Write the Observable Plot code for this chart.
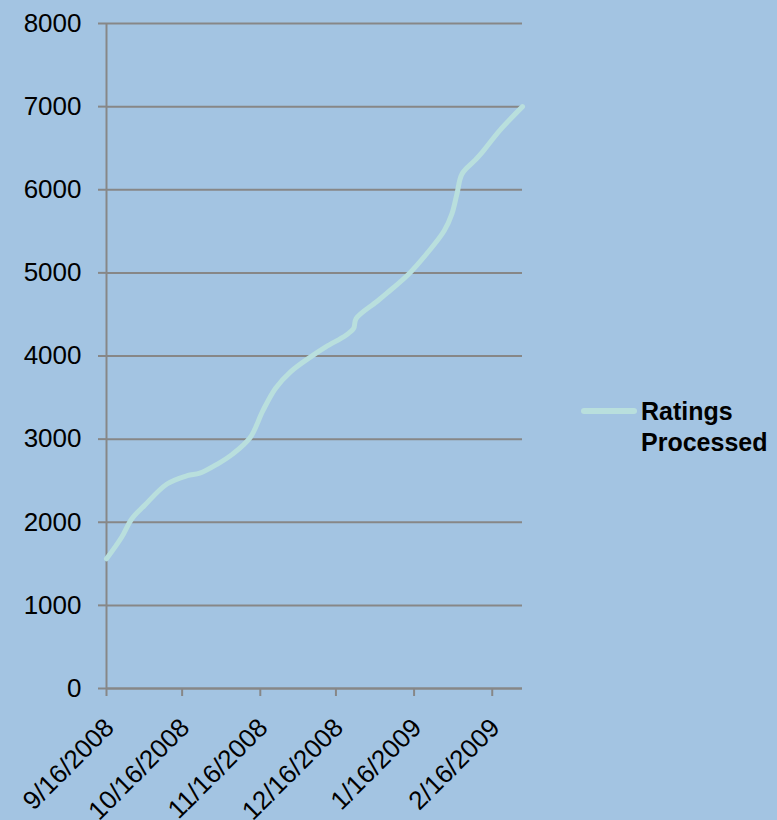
<!DOCTYPE html>
<html>
<head>
<meta charset="utf-8">
<script src="https://cdn.jsdelivr.net/npm/d3@7"></script>
<script src="https://cdn.jsdelivr.net/npm/@observablehq/plot@0.6"></script>
<style>
  html, body { margin: 0; padding: 0; background: #A3C4E2; }
  #wrap { position: relative; width: 777px; height: 820px; background: #A3C4E2; overflow: hidden; }
  #legend { position: absolute; left: 581px; top: 396px; font-family: "Liberation Sans", Arial, sans-serif; font-size: 25px; font-weight: bold; color: #000; }
  #legend .sw { position: absolute; left: 0; top: 12px; width: 56px; height: 6px; border-radius: 3px; background: #B9DFDD; }
  #legend .lb { position: absolute; left: 60px; top: 0; line-height: 31px; white-space: nowrap; }
</style>
</head>
<body>
<div id="wrap"></div>
<script>
const seriesName = "Ratings Processed";
const dates = ["2008-09-16","2008-09-22","2008-09-26","2008-10-01","2008-10-10","2008-10-18","2008-10-23","2008-10-30","2008-11-05","2008-11-12","2008-11-17","2008-11-22","2008-11-28","2008-12-06","2008-12-12","2008-12-20","2008-12-23","2008-12-24","2009-01-01","2009-01-05","2009-01-14","2009-01-21","2009-01-28","2009-01-31","2009-02-02","2009-02-04","2009-02-09","2009-02-12","2009-02-19","2009-02-28"];
const values = [1560,1820,2040,2200,2460,2560,2590,2700,2820,3020,3340,3610,3810,3990,4110,4250,4330,4450,4650,4750,4990,5230,5510,5710,5950,6190,6350,6450,6715,7000];
const yTicks = [0,1000,2000,3000,4000,5000,6000,7000,8000];
const xTickDates = ["2008-09-16","2008-10-16","2008-11-16","2008-12-16","2009-01-16","2009-02-16"];
const xTickLabels = ["9/16/2008","10/16/2008","11/16/2008","12/16/2008","1/16/2009","2/16/2009"];
const xDomain = ["2008-09-16","2009-02-28"];

const data = dates.map((d, i) => ({date: new Date(d), value: values[i]}));
const ticks = xTickDates.map((d, i) => ({date: new Date(d), label: xTickLabels[i]}));
const grey = "#878787";

const chart = Plot.plot({
  width: 777,
  height: 820,
  marginLeft: 106,
  marginRight: 255,
  marginTop: 23,
  marginBottom: 132,
  style: {background: "#A3C4E2", fontFamily: "'Liberation Sans', Arial, sans-serif", color: "#000", overflow: "visible"},
  x: {type: "utc", domain: xDomain.map(d => new Date(d))},
  y: {domain: [0, 8000]},
  marks: [
    Plot.gridY(yTicks, {stroke: grey, strokeOpacity: 1, strokeWidth: 2}),
    Plot.axisY(yTicks, {tickSize: 8, tickPadding: 17, stroke: grey, strokeWidth: 2, fontSize: 26, fill: "#000", label: null, tickFormat: d => String(d)}),
    Plot.axisX(ticks.map(t => t.date), {tickSize: 8, stroke: grey, strokeWidth: 2, tickFormat: () => "", label: null}),
    Plot.ruleX([new Date(xDomain[0])], {y1: 0, y2: 8000, stroke: grey, strokeWidth: 2}),
    Plot.ruleY([0], {stroke: grey, strokeWidth: 2}),
    Plot.text(ticks, {x: "date", text: "label", frameAnchor: "bottom", rotate: -45, textAnchor: "end", lineAnchor: "middle", dx: 3, dy: 35, fontSize: 26, fill: "#000"}),
    Plot.line(data, {x: "date", y: "value", curve: "catmull-rom", stroke: "#B9DFDD", strokeWidth: 5, strokeLinecap: "round", strokeLinejoin: "round"})
  ]
});

const wrap = document.getElementById("wrap");
wrap.appendChild(chart);
const legend = document.createElement("div");
legend.id = "legend";
const sw = document.createElement("div");
sw.className = "sw";
const lb = document.createElement("div");
lb.className = "lb";
lb.innerHTML = seriesName.split(" ").join("<br>");
legend.appendChild(sw);
legend.appendChild(lb);
wrap.appendChild(legend);
</script>
</body>
</html>
